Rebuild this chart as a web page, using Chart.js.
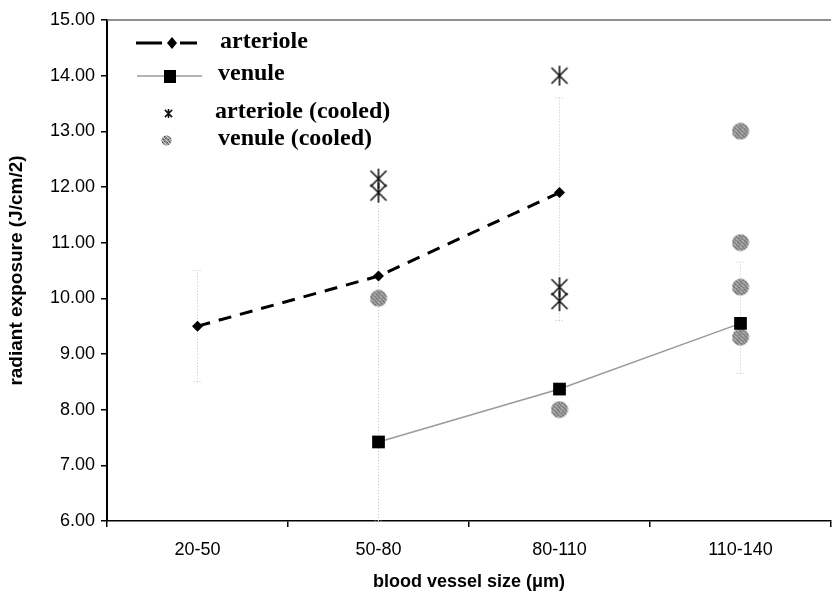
<!DOCTYPE html>
<html>
<head>
<meta charset="utf-8">
<script src="https://cdn.jsdelivr.net/npm/chart.js@4.4.1/dist/chart.umd.min.js"></script>
<style>
html, body { margin: 0; padding: 0; background: #fff; overflow: hidden; }
#wrap { width: 840px; height: 594px; }
</style>
</head>
<body>
<div id="wrap"><canvas id="myChart" width="840" height="594"></canvas></div>
<script>
// data
const categories = ["20-50", "50-80", "80-110", "110-140"];
const yTicks = [6, 7, 8, 9, 10, 11, 12, 13, 14, 15];
const arteriole = [9.5, 10.4, 11.9, null];
const venule = [null, 7.42, 8.37, 9.55];
const arterioleCooledCat = ["50-80", "50-80", "80-110", "80-110", "80-110"];
const arterioleCooledVal = [12.15, 11.9, 14.0, 10.2, 9.95];
const venuleCooledCat = ["50-80", "80-110", "110-140", "110-140", "110-140", "110-140"];
const venuleCooledVal = [10.0, 8.0, 13.0, 11.0, 10.2, 9.3];
// faint error bars
const errCat = ["20-50", "50-80", "80-110", "110-140"];
const errLow = [8.5, 6.0, 9.6, 8.65];
const errHigh = [10.5, 12.0, 13.6, 10.65];

const sans = "'Liberation Sans', Arial, sans-serif";
const serif = "'Liberation Serif', 'Times New Roman', serif";

// asterisk marker (X with a vertical stroke)
function makeStar(size, lw) {
	const c = document.createElement("canvas");
	c.width = size;
	c.height = size;
	const g = c.getContext("2d");
	g.strokeStyle = "#111";
	g.lineWidth = lw;
	const m = size / 2, r = size / 2 - 1;
	g.beginPath();
	g.moveTo(m - r * 0.8, m - r * 0.8); g.lineTo(m + r * 0.8, m + r * 0.8);
	g.moveTo(m + r * 0.8, m - r * 0.8); g.lineTo(m - r * 0.8, m + r * 0.8);
	g.moveTo(m, m - r); g.lineTo(m, m + r);
	g.stroke();
	return c;
}

// speckled grey dot
function makeDot(d) {
	const c = document.createElement("canvas");
	c.width = d;
	c.height = d;
	const g = c.getContext("2d");
	g.fillStyle = "#8c8c8c";
	g.beginPath();
	g.arc(d / 2, d / 2, d / 2 - 0.5, 0, Math.PI * 2);
	g.fill();
	g.globalCompositeOperation = "source-atop";
	for (let i = 0; i < d; i++) {
		for (let j = 0; j < d; j++) {
			if ((i * 3 + j * 5) % 4 === 0) {
				g.fillStyle = "#cfcfcf";
				g.fillRect(i, j, 1, 1);
			} else if ((i + j * 2) % 5 === 0) {
				g.fillStyle = "#4a4a4a";
				g.fillRect(i, j, 1, 1);
			}
		}
	}
	return c;
}

const starBig = makeStar(22, 1.6);
const dotBig = makeDot(18);

const errorBars = {
	id: "errorBars",
	beforeDatasetsDraw(chart) {
		const { ctx, scales } = chart;
		ctx.save();
		ctx.strokeStyle = "#c4c4c4";
		ctx.lineWidth = 1;
		ctx.setLineDash([1, 2]);
		errCat.forEach((c, i) => {
			const x = scales.x.getPixelForValue(categories.indexOf(c));
			const y1 = scales.y.getPixelForValue(errLow[i]);
			const y2 = scales.y.getPixelForValue(errHigh[i]);
			ctx.beginPath();
			ctx.moveTo(x, y1); ctx.lineTo(x, y2);
			ctx.moveTo(x - 4, y1); ctx.lineTo(x + 4, y1);
			ctx.moveTo(x - 4, y2); ctx.lineTo(x + 4, y2);
			ctx.stroke();
		});
		ctx.restore();
	},
};

const frameAndLegend = {
	id: "frameAndLegend",
	afterDraw(chart) {
		const { ctx, chartArea } = chart;
		const ds = chart.data.datasets;
		ctx.save();
		// top frame line
		ctx.strokeStyle = "#6a6a6a";
		ctx.lineWidth = 1.5;
		ctx.beginPath();
		ctx.moveTo(chartArea.left, chartArea.top);
		ctx.lineTo(chartArea.right, chartArea.top);
		ctx.stroke();

		// legend
		ctx.font = "bold 24px " + serif;
		ctx.fillStyle = "#000";
		ctx.textBaseline = "middle";

		// arteriole
		ctx.strokeStyle = "#000";
		ctx.lineWidth = 3;
		ctx.beginPath();
		ctx.moveTo(136, 43); ctx.lineTo(162, 43);
		ctx.moveTo(180, 43); ctx.lineTo(197, 43);
		ctx.stroke();
		ctx.beginPath();
		ctx.moveTo(172, 37); ctx.lineTo(177, 43); ctx.lineTo(172, 49); ctx.lineTo(167, 43);
		ctx.closePath();
		ctx.fill();
		ctx.fillText(ds[0].label, 220, 42);

		// venule
		ctx.strokeStyle = "#9a9a9a";
		ctx.lineWidth = 1.5;
		ctx.beginPath();
		ctx.moveTo(137, 76); ctx.lineTo(202, 76);
		ctx.stroke();
		ctx.fillRect(164, 70, 12, 13);
		ctx.fillText(ds[1].label, 218, 74);

		// arteriole (cooled)
		ctx.drawImage(makeStar(11, 1.6), 163, 108);
		ctx.fillText(ds[2].label, 215, 112);

		// venule (cooled)
		ctx.drawImage(makeDot(11), 161, 135);
		ctx.fillText(ds[3].label, 218, 139);
		ctx.restore();
	},
};

const ctx = document.getElementById("myChart").getContext("2d");

const myChart = new Chart(ctx, {
	type: "line",
	data: {
		labels: categories,
		datasets: [
			{
				label: "arteriole",
				data: arteriole,
				borderColor: "#000",
				borderWidth: 3,
				borderDash: [13, 9],
				pointStyle: "rectRot",
				pointRadius: 5.5,
				pointBackgroundColor: "#000",
				pointBorderWidth: 0,
			},
			{
				label: "venule",
				data: venule,
				borderColor: "#9a9a9a",
				borderWidth: 1.5,
				pointStyle: "rect",
				pointRadius: 9,
				pointBackgroundColor: "#000",
				pointBorderWidth: 0,
			},
			{
				label: "arteriole (cooled)",
				data: arterioleCooledCat.map((c, i) => ({ x: c, y: arterioleCooledVal[i] })),
				showLine: false,
				pointStyle: starBig,
			},
			{
				label: "venule (cooled)",
				data: venuleCooledCat.map((c, i) => ({ x: c, y: venuleCooledVal[i] })),
				showLine: false,
				pointStyle: dotBig,
			},
		],
	},
	options: {
		responsive: false,
		animation: false,
		devicePixelRatio: 1,
		layout: { padding: { top: 20, right: 0, left: 0, bottom: 0 } },
		plugins: {
			legend: { display: false },
			tooltip: { enabled: false },
		},
		scales: {
			x: {
				type: "category",
				offset: true,
				grid: { offset: true, drawOnChartArea: false, tickLength: 6, color: "#000", lineWidth: 1.5 },
				border: { color: "#000", width: 1.5 },
				ticks: { color: "#000", font: { family: sans, size: 18 }, padding: 12, maxRotation: 0, autoSkip: false },
				title: {
					display: true,
					text: "blood vessel size (μm)",
					color: "#000",
					font: { family: sans, size: 18, weight: "bold" },
					padding: { top: 0, bottom: 1 },
				},
				afterFit: (s) => { s.height = 73; },
			},
			y: {
				min: 6,
				max: 15,
				afterBuildTicks: (s) => { s.ticks = yTicks.map((v) => ({ value: v })); },
				grid: { drawOnChartArea: false, tickLength: 6, color: "#000", lineWidth: 1.5 },
				border: { color: "#000", width: 2 },
				ticks: { color: "#000", font: { family: sans, size: 18 }, padding: 6, callback: (v) => Number(v).toFixed(2) },
				title: {
					display: true,
					text: "radiant exposure (J/cm/2)",
					color: "#000",
					font: { family: sans, size: 19, weight: "bold" },
					padding: { top: 5, bottom: 0 },
				},
				afterFit: (s) => { s.width = 107; },
			},
		},
	},
	plugins: [errorBars, frameAndLegend],
});
</script>
</body>
</html>
